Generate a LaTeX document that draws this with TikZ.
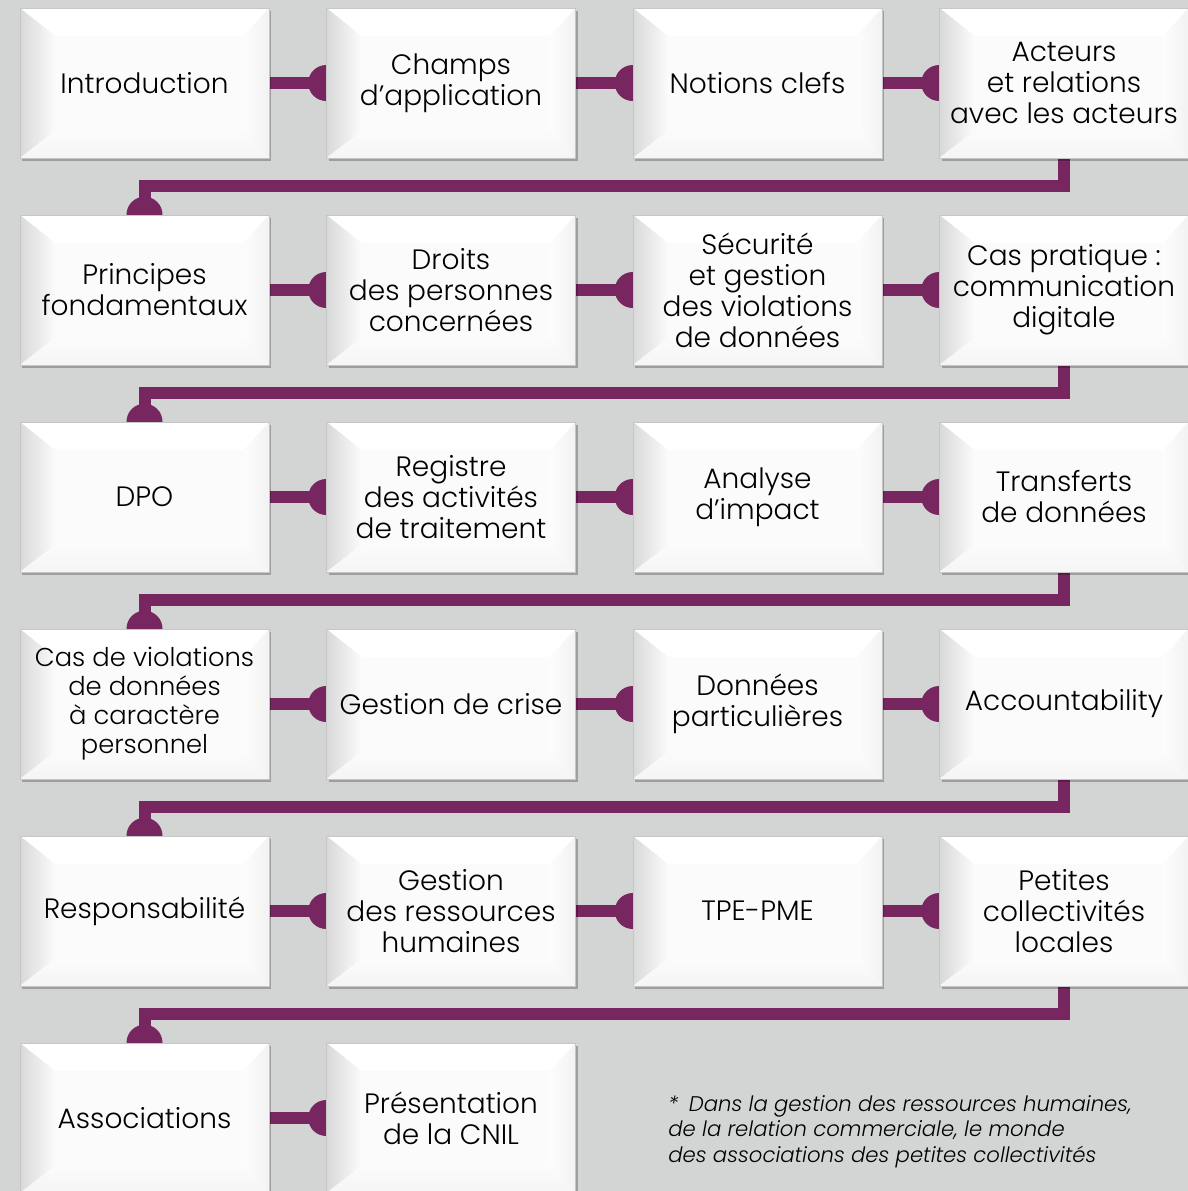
\documentclass[tikz,border=0pt]{standalone}
\usepackage{fontspec}
\setmainfont{Poppins}[UprightFont={* Light}, ItalicFont={* Light Italic}]
\usetikzlibrary{calc, shadows, positioning}
\definecolor{plum}{HTML}{78265F}
\definecolor{paper}{HTML}{D3D4D4}
\newcommand{\boxfont}{\fontsize{14}{15.5}\selectfont}
\newcommand{\notefont}{\fontsize{10.6}{12.75}\selectfont\itshape}
\pgfdeclarelayer{bg}
\pgfdeclarelayer{wire}
\pgfsetlayers{bg,wire,main}
\tikzset{
  bevel/.style={minimum width=124.5pt, minimum height=75pt, inner sep=0pt,
    align=center, font=\boxfont, text=black, fill=gray!3, draw=gray!45, line width=.3pt,
    drop shadow={shadow xshift=1.2pt, shadow yshift=-1.5pt, opacity=.25, fill=black},
    path picture={
      \coordinate (NW) at (path picture bounding box.north west);
      \coordinate (SE) at (path picture bounding box.south east);
      \coordinate (NE) at (NW -| SE);
      \coordinate (SW) at (SE -| NW);
      \coordinate (iNW) at ([xshift=17.5pt,yshift=-14pt]NW);
      \coordinate (iNE) at ([xshift=-12.5pt,yshift=-14pt]NE);
      \coordinate (iSE) at ([xshift=-12.5pt,yshift=13.5pt]SE);
      \coordinate (iSW) at ([xshift=17.5pt,yshift=13.5pt]SW);
      \fill[white] (NW) -- (NE) -- (iNE) -- (iNW) -- cycle;
      \fill[left color=gray!30, right color=gray!3] (NW) -- (iNW) -- (iSW) -- (SW) -- cycle;
      \fill[left color=gray!2, right color=gray!10] (NE) -- (SE) -- (iSE) -- (iNE) -- cycle;
      \fill[top color=gray!3, bottom color=gray!8] (SW) -- (iSW) -- (iSE) -- (SE) -- cycle;
    }},
  wire/.style={plum, line width=6pt},
  knob/.style={fill=plum}
}

\begin{document}
\begin{tikzpicture}[x=0.5pt, y=-0.5pt]
  \useasboundingbox (0,0) rectangle (1188,1191);
  \begin{pgfonlayer}{bg}
    \fill[paper] (0,0) rectangle (1188,1191);
  \end{pgfonlayer}

  % row 1
  \node[bevel] (intro)    at (144.5,83) {Introduction};
  \node[bevel] (champs)   at (451,83)   {Champs\\d’application};
  \node[bevel] (notions)  at (757.5,83) {Notions clefs};
  \node[bevel] (acteurs)  at (1064,83)  {Acteurs\\et relations\\avec les acteurs};
  % row 2
  \node[bevel] (principes)   at (144.5,290) {Principes\\fondamentaux};
  \node[bevel] (droits)      at (451,290)   {Droits\\des personnes\\concernées};
  \node[bevel] (securite)    at (757.5,290) {Sécurité\\et gestion\\des violations\\de données};
  \node[bevel] (caspratique) at (1064,290)  {Cas pratique :\\communication\\digitale};
  % row 3
  \node[bevel] (dpo)        at (144.5,497) {DPO};
  \node[bevel] (registre)   at (451,497)   {Registre\\des activités\\de traitement};
  \node[bevel] (analyse)    at (757.5,497) {Analyse\\d’impact};
  \node[bevel] (transferts) at (1064,497)  {Transferts\\de données};
  % row 4
  \node[bevel, font=\fontsize{12.9}{14.5}\selectfont] (casviol) at (144.5,704)
    {Cas de violations\\de données\\à caractère\\personnel};
  \node[bevel] (crise)   at (451,704)   {Gestion de crise};
  \node[bevel] (donnees) at (757.5,704) {Données\\particulières};
  \node[bevel] (account) at (1064,704)  {Accountability};
  % row 5
  \node[bevel] (respons) at (144.5,911) {Responsabilité};
  \node[bevel] (grh)     at (451,911)   {Gestion\\des ressources\\humaines};
  \node[bevel] (tpe)     at (757.5,911) {TPE-PME};
  \node[bevel] (petites) at (1064,911)  {Petites\\collectivités\\locales};
  % row 6
  \node[bevel] (assoc) at (144.5,1118) {Associations};
  \node[bevel] (cnil)  at (451,1118)   {Présentation\\de la CNIL};

  \node[anchor=base west, align=left, font=\notefont, inner sep=0pt] (note) at (668,1162)
    {*\enspace Dans la gestion des ressources humaines,\\de la relation commerciale, le monde\\des associations des petites collectivités};

  \begin{pgfonlayer}{wire}
    \foreach \a/\b in {intro/champs, champs/notions, notions/acteurs,
                       principes/droits, droits/securite, securite/caspratique,
                       dpo/registre, registre/analyse, analyse/transferts,
                       casviol/crise, crise/donnees, donnees/account,
                       respons/grh, grh/tpe, tpe/petites, assoc/cnil}{
      \draw[wire] (\a.east) -- (\b.west);
      \fill[knob] (\b.west) circle[radius=9pt];
    }
    \foreach \a/\b in {acteurs/principes, caspratique/dpo, transferts/casviol,
                       account/respons, petites/assoc}{
      \draw[wire] (\a.south) -- ++(0,28) -| (\b.north);
      \fill[knob] (\b.north) circle[radius=9pt];
    }
  \end{pgfonlayer}
\end{tikzpicture}
\end{document}
